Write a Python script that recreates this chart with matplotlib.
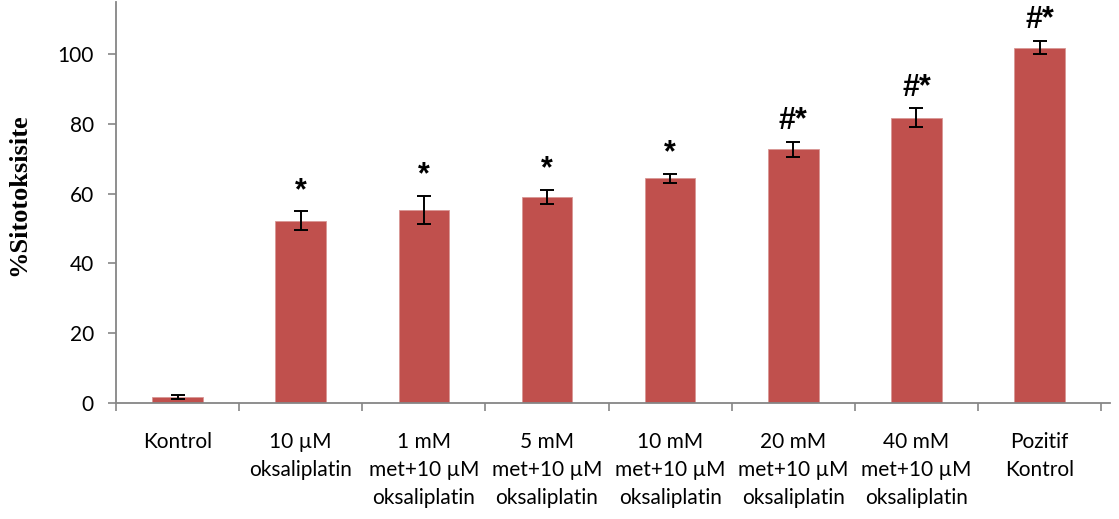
import matplotlib
matplotlib.use("Agg")
import matplotlib.pyplot as plt
import numpy as np

categories = [
    "Kontrol",
    "10 µM\noksaliplatin",
    "1 mM\nmet+10 µM\noksaliplatin",
    "5 mM\nmet+10 µM\noksaliplatin",
    "10 mM\nmet+10 µM\noksaliplatin",
    "20 mM\nmet+10 µM\noksaliplatin",
    "40 mM\nmet+10 µM\noksaliplatin",
    "Pozitif\nKontrol",
]
cytotoxicity = [1.7, 52.3, 55.4, 59.1, 64.4, 72.7, 81.8, 101.9]
error = [0.5, 2.6, 4.0, 2.1, 1.3, 2.2, 2.7, 1.9]
significance = ["", "*", "*", "*", "*", "#*", "#*", "#*"]
yticks = [0, 20, 40, 60, 80, 100]

bar_color = "#C0504D"
axis_color = "#868686"
label_font = "Lato"

fig = plt.figure(figsize=(11.19, 5.19), dpi=100)
ax = fig.add_axes([0.1037, 0.2235, 0.888, 0.773])

x = np.arange(len(categories))
ax.bar(x, cytotoxicity, width=0.41, color=bar_color, edgecolor="#D99795",
       linewidth=0.6, zorder=2)
ax.errorbar(x, cytotoxicity, yerr=error, fmt="none", ecolor="black",
            elinewidth=1.4, capsize=5, capthick=1.4, zorder=3)

for xi, v, e, s in zip(x, cytotoxicity, error, significance):
    if s:
        ax.annotate(s, (xi, v + e), xytext=(0, 4), textcoords="offset points",
                    ha="center", va="bottom", fontsize=22, fontweight="bold",
                    family="Liberation Sans", color="black")

ax.set_xlim(-0.5, len(categories) - 0.43)
ax.set_ylim(0, 115)
ax.set_yticks(yticks)
ax.set_yticklabels([str(t) for t in yticks], fontsize=15, family=label_font)

ax.set_xticks(x)
ax.set_xticklabels(categories, fontsize=15, family=label_font,
                   linespacing=1.5, va="top")
ax.tick_params(axis="x", which="major", length=0, pad=21)
ax.set_xticks(np.arange(len(categories) + 1) - 0.5, minor=True)
ax.tick_params(axis="x", which="minor", length=6, color=axis_color, width=1.2)
ax.tick_params(axis="y", which="major", length=6, color=axis_color, width=1.2,
               pad=10)

for side in ("top", "right"):
    ax.spines[side].set_visible(False)
for side in ("left", "bottom"):
    ax.spines[side].set_color(axis_color)
    ax.spines[side].set_linewidth(1.3)

ax.set_ylabel("%Sitotoksisite", fontsize=19, fontweight="bold",
              family="Liberation Serif")
ax.yaxis.set_label_coords(-0.086, 0.52)

fig.savefig("out.png", dpi=100)
